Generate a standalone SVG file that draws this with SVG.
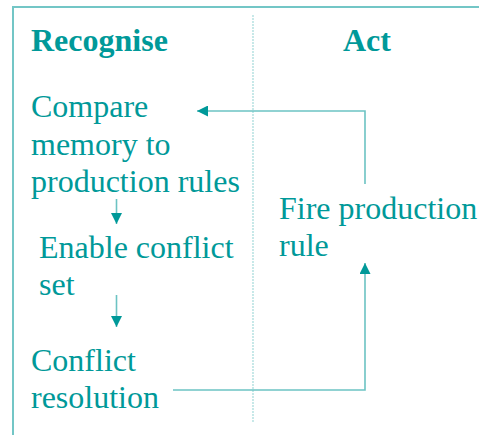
<svg xmlns="http://www.w3.org/2000/svg" width="479" height="435" viewBox="0 0 479 435">
  <style>
    .lbl { font-family: "Liberation Serif", "Times New Roman", serif; font-size: 32px; fill: #009999; }
    .head { font-weight: bold; }
    .frame { fill: none; stroke: #73c6c6; stroke-width: 2; }
    .divider { fill: none; stroke: #a3dada; stroke-width: 1.2; stroke-dasharray: 2 1; }
    .link { fill: none; stroke: #6cc3c3; stroke-width: 1.6; }
  </style>
  <defs>
    <marker id="arrow" viewBox="0 0 11 11" refX="11" refY="5.5" markerWidth="11" markerHeight="11" markerUnits="userSpaceOnUse" orient="auto">
      <path d="M0,0 L11,5.5 L0,11 Z" fill="#009999"/>
    </marker>
  </defs>

  <rect width="479" height="435" fill="#ffffff"/>

  <!-- frame and column divider -->
  <g id="frame">
    <path class="frame" d="M13,435 L13,7 L479,7"/>
    <line class="divider" x1="253" y1="15" x2="253" y2="423"/>
  </g>

  <!-- column headings -->
  <g id="headings">
    <text class="lbl head" x="31" y="51">Recognise</text>
    <text class="lbl head" x="343" y="51">Act</text>
  </g>

  <g id="compare">
    <text class="lbl" x="31" y="117">Compare</text>
    <text class="lbl" x="31" y="155">memory to</text>
    <text class="lbl" x="31" y="192">production rules</text>
  </g>

  <g id="enable">
    <text class="lbl" x="39" y="258">Enable conflict</text>
    <text class="lbl" x="39" y="295">set</text>
  </g>

  <g id="resolution">
    <text class="lbl" x="31" y="371">Conflict</text>
    <text class="lbl" x="31" y="408">resolution</text>
  </g>

  <g id="fire">
    <text class="lbl" x="279" y="219">Fire production</text>
    <text class="lbl" x="279" y="256">rule</text>
  </g>

  <!-- connectors -->
  <g id="connectors">
    <line class="link" x1="116.5" y1="199" x2="116.5" y2="224" marker-end="url(#arrow)"/>
    <line class="link" x1="116.5" y1="295" x2="116.5" y2="327" marker-end="url(#arrow)"/>
    <path class="link" d="M365,184 L365,111 L197,111" marker-end="url(#arrow)"/>
    <path class="link" d="M173,390 L365,390 L365,263" marker-end="url(#arrow)"/>
  </g>
</svg>
